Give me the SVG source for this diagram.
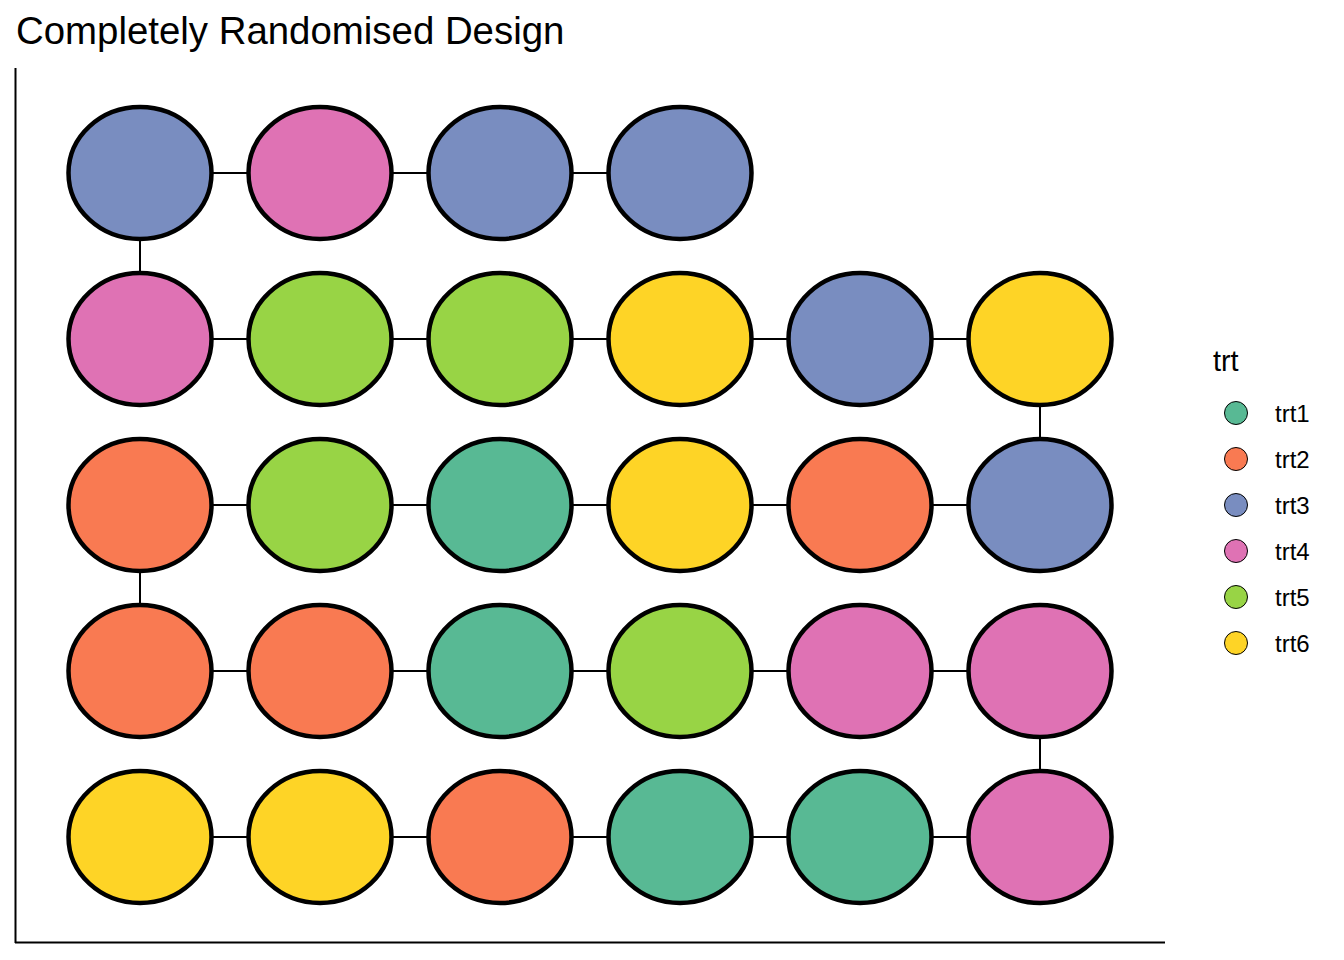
<svg xmlns="http://www.w3.org/2000/svg" width="1344" height="960" viewBox="0 0 1344 960">
<style>
text{font-family:"Liberation Sans",Arial,sans-serif;fill:#000}
.p{stroke:#000;stroke-width:4.5}
.t1{fill:#58B994}.t2{fill:#F97A52}.t3{fill:#798DC0}.t4{fill:#DF72B4}.t5{fill:#98D445}.t6{fill:#FED426}
.c{stroke:#000;stroke-width:2;fill:none}
.lg{stroke:#000;stroke-width:1}
.lt{font-size:24px}
</style>
<rect width="1344" height="960" fill="#fff"/>
<text x="16" y="44" font-size="38.4">Completely Randomised Design</text>
<g id="axes" stroke="#000" stroke-width="2" fill="none">
<line x1="15.5" y1="68" x2="15.5" y2="943"/>
<line x1="15" y1="942.5" x2="1165" y2="942.5"/>
</g>
<g id="connectors" class="c">
<path d="M680 173 H140 V339 H1040 V505 H140 V671 H1040 V837 H140"/>
</g>
<g id="plots">
<g id="r1"><ellipse class="p t3" cx="140" cy="173" rx="71.5" ry="66"/><ellipse class="p t4" cx="320" cy="173" rx="71.5" ry="66"/><ellipse class="p t3" cx="500" cy="173" rx="71.5" ry="66"/><ellipse class="p t3" cx="680" cy="173" rx="71.5" ry="66"/></g>
<g id="r2"><ellipse class="p t4" cx="140" cy="339" rx="71.5" ry="66"/><ellipse class="p t5" cx="320" cy="339" rx="71.5" ry="66"/><ellipse class="p t5" cx="500" cy="339" rx="71.5" ry="66"/><ellipse class="p t6" cx="680" cy="339" rx="71.5" ry="66"/><ellipse class="p t3" cx="860" cy="339" rx="71.5" ry="66"/><ellipse class="p t6" cx="1040" cy="339" rx="71.5" ry="66"/></g>
<g id="r3"><ellipse class="p t2" cx="140" cy="505" rx="71.5" ry="66"/><ellipse class="p t5" cx="320" cy="505" rx="71.5" ry="66"/><ellipse class="p t1" cx="500" cy="505" rx="71.5" ry="66"/><ellipse class="p t6" cx="680" cy="505" rx="71.5" ry="66"/><ellipse class="p t2" cx="860" cy="505" rx="71.5" ry="66"/><ellipse class="p t3" cx="1040" cy="505" rx="71.5" ry="66"/></g>
<g id="r4"><ellipse class="p t2" cx="140" cy="671" rx="71.5" ry="66"/><ellipse class="p t2" cx="320" cy="671" rx="71.5" ry="66"/><ellipse class="p t1" cx="500" cy="671" rx="71.5" ry="66"/><ellipse class="p t5" cx="680" cy="671" rx="71.5" ry="66"/><ellipse class="p t4" cx="860" cy="671" rx="71.5" ry="66"/><ellipse class="p t4" cx="1040" cy="671" rx="71.5" ry="66"/></g>
<g id="r5"><ellipse class="p t6" cx="140" cy="837" rx="71.5" ry="66"/><ellipse class="p t6" cx="320" cy="837" rx="71.5" ry="66"/><ellipse class="p t2" cx="500" cy="837" rx="71.5" ry="66"/><ellipse class="p t1" cx="680" cy="837" rx="71.5" ry="66"/><ellipse class="p t1" cx="860" cy="837" rx="71.5" ry="66"/><ellipse class="p t4" cx="1040" cy="837" rx="71.5" ry="66"/></g>
</g>
<g id="legend">
<text x="1213" y="371" font-size="28.8">trt</text>
<circle class="lg t1" cx="1236" cy="413" r="11.5"/><text class="lt" x="1275" y="422">trt1</text>
<circle class="lg t2" cx="1236" cy="459" r="11.5"/><text class="lt" x="1275" y="468">trt2</text>
<circle class="lg t3" cx="1236" cy="505" r="11.5"/><text class="lt" x="1275" y="514">trt3</text>
<circle class="lg t4" cx="1236" cy="551" r="11.5"/><text class="lt" x="1275" y="560">trt4</text>
<circle class="lg t5" cx="1236" cy="597" r="11.5"/><text class="lt" x="1275" y="606">trt5</text>
<circle class="lg t6" cx="1236" cy="643" r="11.5"/><text class="lt" x="1275" y="652">trt6</text>
</g>
</svg>
